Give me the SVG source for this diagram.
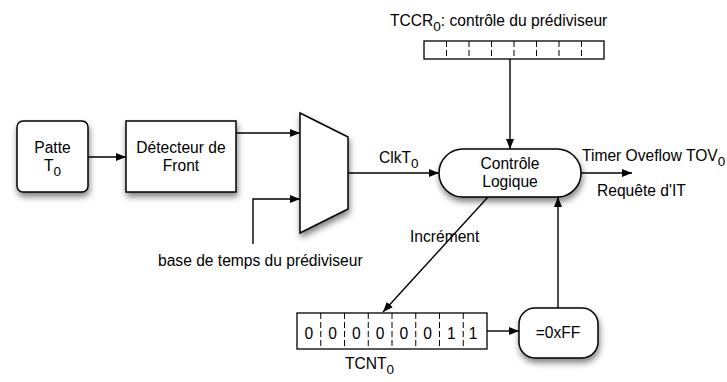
<svg xmlns="http://www.w3.org/2000/svg" width="727" height="382" viewBox="0 0 727 382">
  <defs>
    <filter id="shadow" x="-20%" y="-20%" width="150%" height="160%">
      <feDropShadow dx="1" dy="4" stdDeviation="3" flood-color="#000" flood-opacity="0.5"/>
    </filter>
    <marker id="arrow" viewBox="0 0 10 8" refX="10" refY="4" markerWidth="10" markerHeight="8" markerUnits="userSpaceOnUse" orient="auto">
      <path d="M0,0 L10,4 L0,8 z" fill="#000"/>
    </marker>
  </defs>
  <style>
    text { font-family: "Liberation Sans", Arial, sans-serif; font-size: 15.6px; fill: #000; }
    .mid { text-anchor: middle; }
    .box { fill: #fff; stroke: #000; stroke-width: 1.5; filter: url(#shadow); }
    .reg { fill: #fff; stroke: #000; stroke-width: 1.3; }
    .div { stroke: #000; stroke-width: 1; stroke-dasharray: 6 3; }
    .wire { fill: none; stroke: #000; stroke-width: 1.4; }
    .arr { marker-end: url(#arrow); }
    .sub { font-size: 13.5px; }
  </style>

  <!-- connectors -->
  <g id="connectors">
    <line class="wire arr" x1="88" y1="157" x2="126" y2="157"/>
    <line class="wire arr" x1="236" y1="133" x2="300" y2="133"/>
    <polyline class="wire arr" points="253,244 253,199 300,199"/>
    <line class="wire arr" x1="348" y1="173" x2="439" y2="173"/>
    <line class="wire arr" x1="510" y1="59" x2="510" y2="149"/>
    <line class="wire arr" x1="581" y1="173" x2="632" y2="173"/>
    <line class="wire arr" x1="488" y1="197" x2="383" y2="312"/>
    <line class="wire arr" x1="487" y1="331" x2="519" y2="331"/>
    <line class="wire arr" x1="558" y1="308" x2="558" y2="197"/>
  </g>

  <!-- input pin -->
  <g id="patte">
    <rect class="box" x="17" y="121" width="71" height="71" rx="6"/>
    <text class="mid" x="52.5" y="153">Patte</text>
    <text class="mid" x="52.5" y="171">T<tspan class="sub" dy="5">0</tspan></text>
  </g>

  <!-- edge detector -->
  <g id="detecteur">
    <rect class="box" x="126" y="121" width="110" height="71"/>
    <text class="mid" x="181" y="153">Détecteur de</text>
    <text class="mid" x="181" y="171">Front</text>
  </g>

  <!-- multiplexer -->
  <g id="mux">
    <polygon class="box" points="300,113 348,137 348,209 300,233"/>
  </g>

  <!-- prescaler control register -->
  <g id="tccr">
    <rect class="reg" x="424" y="41" width="180" height="18"/>
    <line class="div" x1="446.5" y1="41" x2="446.5" y2="59" stroke-dasharray="6 4"/>
    <line class="div" x1="469" y1="41" x2="469" y2="59" stroke-dasharray="6 4"/>
    <line class="div" x1="491.5" y1="41" x2="491.5" y2="59" stroke-dasharray="6 4"/>
    <line class="div" x1="514" y1="41" x2="514" y2="59" stroke-dasharray="6 4"/>
    <line class="div" x1="536.5" y1="41" x2="536.5" y2="59" stroke-dasharray="6 4"/>
    <line class="div" x1="559" y1="41" x2="559" y2="59" stroke-dasharray="6 4"/>
    <line class="div" x1="581.5" y1="41" x2="581.5" y2="59" stroke-dasharray="6 4"/>
    <text x="390" y="26">TCCR<tspan class="sub" dy="5">0</tspan><tspan dy="-5">: contrôle du prédiviseur</tspan></text>
  </g>

  <!-- control logic -->
  <g id="controle">
    <rect class="box" x="439" y="149" width="142" height="48" rx="24"/>
    <text class="mid" x="510" y="169">Contrôle</text>
    <text class="mid" x="510" y="187">Logique</text>
  </g>

  <!-- counter register -->
  <g id="tcnt">
    <rect class="reg" x="297" y="313" width="190" height="36"/>
    <line class="div" x1="320.75" y1="313" x2="320.75" y2="349"/>
    <line class="div" x1="344.5" y1="313" x2="344.5" y2="349"/>
    <line class="div" x1="368.25" y1="313" x2="368.25" y2="349"/>
    <line class="div" x1="392" y1="313" x2="392" y2="349"/>
    <line class="div" x1="415.75" y1="313" x2="415.75" y2="349"/>
    <line class="div" x1="439.5" y1="313" x2="439.5" y2="349"/>
    <line class="div" x1="463.25" y1="313" x2="463.25" y2="349"/>
    <text class="mid" x="308.9" y="339">0</text>
    <text class="mid" x="332.6" y="339">0</text>
    <text class="mid" x="356.4" y="339">0</text>
    <text class="mid" x="380.1" y="339">0</text>
    <text class="mid" x="403.9" y="339">0</text>
    <text class="mid" x="427.6" y="339">0</text>
    <text class="mid" x="451.4" y="339">1</text>
    <text class="mid" x="473" y="339">1</text>
    <text x="345" y="369">TCNT<tspan class="sub" dy="5">0</tspan></text>
  </g>

  <!-- overflow comparator -->
  <g id="compare">
    <rect class="box" x="519" y="308" width="79" height="50" rx="16"/>
    <text class="mid" x="558" y="338">=0xFF</text>
  </g>

  <!-- connector labels -->
  <g id="labels">
    <text x="379" y="163">ClkT<tspan class="sub" dy="5">0</tspan></text>
    <text x="158" y="266">base de temps du prédiviseur</text>
    <text x="582" y="161">Timer Oveflow TOV<tspan class="sub" dy="5">0</tspan></text>
    <text x="597" y="196">Requête d'IT</text>
    <text x="410" y="242">Incrément</text>
  </g>
</svg>
